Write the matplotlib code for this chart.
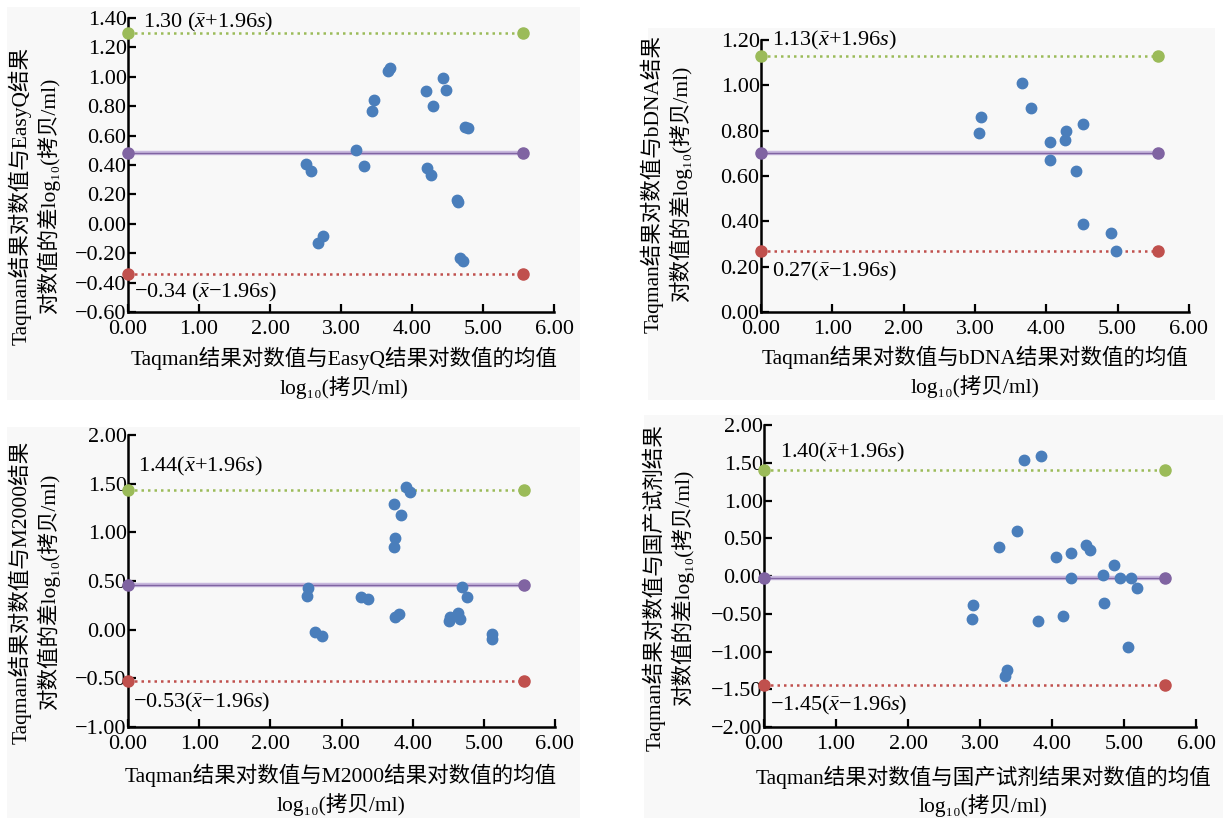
import matplotlib
matplotlib.use("Agg")
import matplotlib.pyplot as plt
from matplotlib.patches import Rectangle
from matplotlib.ticker import FuncFormatter
import numpy as np

plt.rcParams['font.family'] = ['Liberation Serif', 'DejaVu Serif', 'Noto Sans CJK SC']
plt.rcParams['mathtext.fontset'] = 'custom'
plt.rcParams['mathtext.rm'] = 'Liberation Serif'
plt.rcParams['mathtext.it'] = 'Liberation Serif:italic'

# ---------------- data ----------------
easyq_x = [2.51, 2.58, 2.67, 2.74, 3.21, 3.33, 3.43, 3.47, 3.66, 3.69, 4.20, 4.29,
           4.21, 4.27, 4.44, 4.48, 4.64, 4.65, 4.67, 4.72, 4.74, 4.79]
easyq_y = [0.41, 0.36, -0.13, -0.08, 0.50, 0.39, 0.77, 0.84, 1.04, 1.06, 0.90, 0.80,
           0.38, 0.33, 0.99, 0.91, 0.16, 0.15, -0.23, -0.25, 0.66, 0.65]
easyq_lines = [1.30, 0.48, -0.34]

bdna_x = [3.05, 3.09, 3.66, 3.78, 4.05, 4.05, 4.27, 4.26, 4.41, 4.51, 4.51, 4.90, 4.97]
bdna_y = [0.79, 0.86, 1.01, 0.90, 0.75, 0.67, 0.80, 0.76, 0.62, 0.83, 0.39, 0.35, 0.27]
bdna_lines = [1.13, 0.70, 0.27]

m2000_x = [2.53, 2.52, 2.63, 2.72, 3.28, 3.37, 3.74, 3.75, 3.74, 3.83, 3.75, 3.81,
           3.90, 3.96, 4.51, 4.53, 4.63, 4.66, 4.70, 4.77, 5.12, 5.12]
m2000_y = [0.43, 0.35, -0.02, -0.06, 0.34, 0.31, 1.29, 0.94, 0.85, 1.18, 0.13, 0.16,
           1.47, 1.41, 0.09, 0.13, 0.17, 0.11, 0.44, 0.34, -0.04, -0.10]
m2000_lines = [1.44, 0.46, -0.53]

dom_x = [2.90, 2.89, 3.26, 3.35, 3.38, 3.52, 3.61, 3.81, 3.85, 4.05, 4.15, 4.26,
         4.27, 4.47, 4.53, 4.71, 4.72, 4.86, 4.95, 5.06, 5.10, 5.18]
dom_y = [-0.39, -0.57, 0.38, -1.33, -1.25, 0.59, 1.54, -0.59, 1.59, 0.25, -0.53, -0.03,
         0.31, 0.41, 0.35, 0.01, -0.36, 0.14, -0.03, -0.94, -0.03, -0.16]
dom_lines = [1.40, -0.02, -1.45]

line_x = [0.0, 5.57]

upper_labels = ["1.30 ($\\bar{x}$+1.96$s$)", "1.13($\\bar{x}$+1.96$s$)",
                "1.44($\\bar{x}$+1.96$s$)", "1.40($\\bar{x}$+1.96$s$)"]
lower_labels = ["\u22120.34 ($\\bar{x}$\u22121.96$s$)", "0.27($\\bar{x}$\u22121.96$s$)",
                "\u22120.53($\\bar{x}$\u22121.96$s$)", "\u22121.45($\\bar{x}$\u22121.96$s$)"]
ylabels = ["Taqman结果对数值与EasyQ结果\n对数值的差log\u2081\u2080(拷贝/ml)",
           "Taqman结果对数值与bDNA结果\n对数值的差log\u2081\u2080(拷贝/ml)",
           "Taqman结果对数值与M2000结果\n对数值的差log\u2081\u2080(拷贝/ml)",
           "Taqman结果对数值与国产试剂结果\n对数值的差log\u2081\u2080(拷贝/ml)"]
xlabels = ["Taqman结果对数值与EasyQ结果对数值的均值",
           "Taqman结果对数值与bDNA结果对数值的均值",
           "Taqman结果对数值与M2000结果对数值的均值",
           "Taqman结果对数值与国产试剂结果对数值的均值"]
xlabel2 = "log\u2081\u2080(拷贝/ml)"

W, H = 1223, 821
fig = plt.figure(figsize=(W / 100, H / 100), dpi=100)
fig.patch.set_facecolor('white')


def fx(px):
    return px / W


def fy(py):
    return 1 - py / H


def fmt(v, pos):
    s = '%.2f' % v
    if s.startswith('-'):
        s = '\u2212' + s[1:]
    if s == '\u22120.00':
        s = '0.00'
    return s


# background panels (pixel boxes: x0, y0, x1, y1)
bgs = [(7, 7, 580, 400), (648, 28, 1215, 400), (7, 427, 580, 818), (644, 415, 1223, 818)]
for x0, y0, x1, y1 in bgs:
    fig.patches.append(Rectangle((fx(x0), fy(y1)), fx(x1) - fx(x0), fy(y0) - fy(y1),
                                 transform=fig.transFigure, facecolor='#f8f8f8',
                                 edgecolor='none', zorder=-10))

# axes pixel boxes: left, top, right, bottom
boxes = [(128, 18, 554, 312), (761, 40, 1189, 312), (128, 435, 555, 727), (764, 425, 1196, 727)]
ylims = [(-0.6, 1.4), (0.0, 1.2), (-1.0, 2.0), (-2.0, 2.0)]
ysteps = [0.2, 0.2, 0.5, 0.5]
xs = [easyq_x, bdna_x, m2000_x, dom_x]
ys = [easyq_y, bdna_y, m2000_y, dom_y]
lines = [easyq_lines, bdna_lines, m2000_lines, dom_lines]
upper_pos = [(0.21, 1.37), (0.15, 1.20), (0.14, 1.68), (0.22, 1.64)]
lower_pos = [(0.08, -0.47), (0.15, 0.18), (0.07, -0.75), (0.08, -1.71)]
ylab_pos = [(34, 196), (666, 184), (34, 592), (668, 588)]
xlab_pos = [(344, 358, 388), (975, 357, 387), (341, 775, 805), (983, 777, 806)]

FS_TICK = 16
FS_LAB = 15.5

for i in range(4):
    l, t, r, b = boxes[i]
    ax = fig.add_axes([fx(l), fy(b), fx(r) - fx(l), fy(t) - fy(b)])
    ax.set_facecolor('none')
    ax.set_xlim(0, 6)
    ax.set_ylim(*ylims[i])
    for s in ['top', 'right']:
        ax.spines[s].set_visible(False)
    for s in ['left', 'bottom']:
        ax.spines[s].set_linewidth(1.8)
    ax.set_xticks(np.arange(0, 6.01, 1.0))
    ax.set_yticks(np.arange(ylims[i][0], ylims[i][1] + 1e-9, ysteps[i]))
    ax.xaxis.set_major_formatter(FuncFormatter(fmt))
    ax.yaxis.set_major_formatter(FuncFormatter(fmt))
    ax.tick_params(direction='in', length=6, width=1.6, labelsize=FS_TICK, pad=1)
    ax.tick_params(axis='x', pad=6)

    up, mean, low = lines[i]
    ax.plot(line_x, [up, up], linestyle=(0, (1, 1.6)), color='#9bbb59', lw=1.8,
            marker='o', ms=8, clip_on=False, zorder=3)
    ax.plot(line_x, [low, low], linestyle=(0, (1, 1.6)), color='#c0504d', lw=1.8,
            marker='o', ms=8, clip_on=False, zorder=3)
    ax.plot(line_x, [mean, mean], color='#c9b9de', lw=3.2, solid_capstyle='butt',
            clip_on=False, zorder=2)
    ax.plot(line_x, [mean, mean], color='#8064a2', lw=1.0, marker='o', ms=8,
            clip_on=False, zorder=3)
    ax.plot(xs[i], ys[i], 'o', color='#4a7ebb', ms=7.5, zorder=4, clip_on=False)

    ax.text(upper_pos[i][0], upper_pos[i][1], upper_labels[i], fontsize=FS_TICK,
            ha='left', va='center')
    ax.text(lower_pos[i][0], lower_pos[i][1], lower_labels[i], fontsize=FS_TICK,
            ha='left', va='center')

    yx, yy = ylab_pos[i]
    fig.text(fx(yx), fy(yy), ylabels[i], rotation=90, ha='center', va='center',
             fontsize=FS_LAB, linespacing=1.3, multialignment='center')
    cx, y1, y2 = xlab_pos[i]
    fig.text(fx(cx), fy(y1), xlabels[i], ha='center', va='center', fontsize=FS_LAB)
    fig.text(fx(cx), fy(y2), xlabel2, ha='center', va='center', fontsize=FS_LAB)

fig.savefig('out.png', dpi=100)
